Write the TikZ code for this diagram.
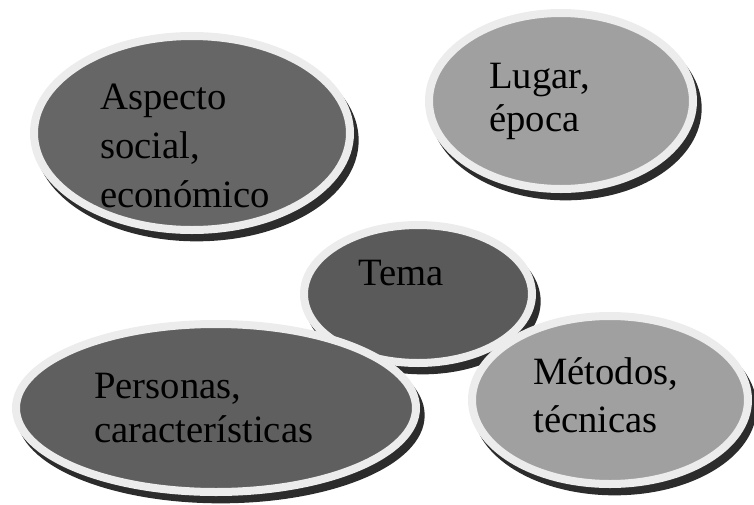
\documentclass[tikz,border=0pt]{standalone}
\usepackage{fontspec}
\setmainfont{Liberation Serif}
\usetikzlibrary{shapes.geometric}
\definecolor{rimc}{HTML}{ECECEC}
\definecolor{shadc}{HTML}{2C2C2C}
\definecolor{darkA}{HTML}{666666}
\definecolor{darkT}{HTML}{5A5A5A}
\definecolor{darkP}{HTML}{5F5F5F}
\definecolor{lightF}{HTML}{A0A0A0}
\tikzset{
  bub/.style={ellipse, inner sep=0pt, draw=rimc, line width=6pt,
    preaction={draw=shadc, fill=shadc, line width=6pt,
      transform canvas={shift={(3.5pt,-5.5pt)}}}},
  lbl/.style={anchor=base west, inner sep=0pt, text=black,
    font=\fontsize{29}{33}\selectfont}
}
\begin{document}
\begin{tikzpicture}[x=0.75pt,y=-0.75pt]
\useasboundingbox (0,0) rectangle (754,504);
% Tema (behind)
\node[bub, fill=darkT, minimum width=171pt, minimum height=103.5pt] (tema) at (418,294) {};
% Aspecto
\node[bub, fill=darkA, minimum width=237pt, minimum height=145.5pt] (asp) at (192,133) {};
% Lugar
\node[bub, fill=lightF, minimum width=198pt, minimum height=132pt] (lug) at (561,101) {};
% Personas
\node[bub, fill=darkP, minimum width=300pt, minimum height=126pt] (per) at (216,408) {};
% Metodos
\node[bub, fill=lightF, minimum width=207pt, minimum height=126pt] (met) at (610,400) {};
% texts
\node[lbl] (asp1) at (100,109) {Aspecto};
\node[lbl] (asp2) at (100,158) {social,};
\node[lbl] (asp3) at (100,207) {económico};
\node[lbl] (lug1) at (489,88) {Lugar,};
\node[lbl] (lug2) at (489,131) {época};
\node[lbl] (tem1) at (358,285) {Tema};
\node[lbl] (per1) at (94,398) {Personas,};
\node[lbl] (per2) at (94,442) {características};
\node[lbl] (met1) at (533,384) {Métodos,};
\node[lbl] (met2) at (533,432) {técnicas};
\end{tikzpicture}
\end{document}
